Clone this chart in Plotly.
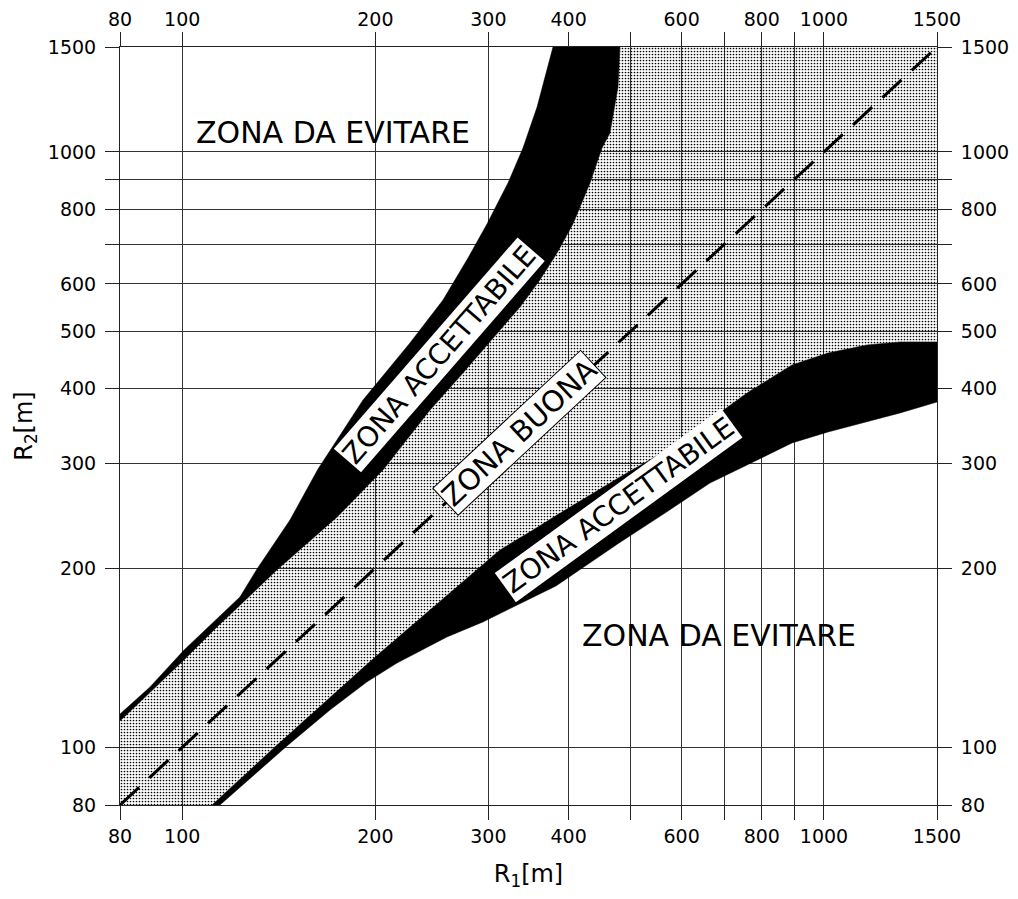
import numpy as np
import plotly.graph_objects as go

R_MIN, R_MAX = 80, 1500

GRID_VALUES = [80, 100, 200, 300, 400, 500, 600, 700, 800, 900, 1000, 1500]
X_TICK_TEXT = ["80", "100", "200", "300", "400", "", "600", "", "800", "", "1000", "1500"]
Y_TICK_TEXT = ["80", "100", "200", "300", "400", "500", "600", "", "800", "", "1000", "1500"]

# upper "zona accettabile" band: outer edge (towards the top-left zone) and inner edge
upper_out_r1 = [80, 89.1, 100.6, 123.0, 130.8, 147.2, 162.8, 191.3, 226.4, 254.9, 278.8, 298.5, 321.8, 339.6, 357.2, 378.2]
upper_out_r2 = [113.7, 126.3, 145.6, 178.8, 199.3, 240.8, 293.3, 383, 477.6, 563.9, 663.2, 756.8, 886.5, 1015, 1189, 1500]
upper_in_r1 = [80, 100.6, 113.3, 141.0, 174.3, 205.5, 243.3, 273.8, 301.7, 336.0, 360.8, 383.7, 406.3, 431.9, 450.9, 464.0, 477.6, 481]
upper_in_r2 = [110.7, 140.1, 159.2, 199.3, 243.6, 292.2, 368.5, 425.2, 479.5, 548.9, 609.2, 676.2, 756.8, 886.5, 1015, 1075.8, 1285, 1500]

# lower "zona accettabile" band: inner edge (towards the good zone) and outer edge
lower_in_r1 = [111.3, 140.0, 199.0, 289.0, 312.7, 352.1, 383.7, 481, 569.3, 664.2, 758.7, 891.6, 1014.5, 1166.7, 1313.7, 1500]
lower_in_r2 = [80, 100.5, 141.2, 199.3, 214.5, 231.7, 245.5, 284.4, 315.7, 354.5, 393.6, 438.6, 459.4, 473.9, 479.5, 479.5]
lower_out_r1 = [114.5, 145.6, 169.9, 194.1, 216.1, 258.5, 294.2, 336.0, 382.3, 479.3, 565.3, 664.2, 758.7, 891.6, 1014.5, 1166.7, 1313.7, 1500]
lower_out_r2 = [80, 100.5, 115.5, 128.8, 138.5, 153.2, 162.4, 174.1, 186.6, 220.3, 247.4, 277.8, 297.9, 324.4, 338.5, 351.8, 364.3, 380.1]

FONT = "DejaVu Sans"

fig = go.Figure()

# dotted "zona buona" area between the two bands
dotted_x = upper_in_r1 + [R_MAX] + lower_in_r1[::-1] + [R_MIN]
dotted_y = upper_in_r2 + [R_MAX] + lower_in_r2[::-1] + [R_MIN]
fig.add_trace(go.Scatter(
    x=dotted_x, y=dotted_y, mode="lines", fill="toself",
    line=dict(width=0), fillcolor="rgba(0,0,0,0)",
    fillpattern=dict(shape=".", size=3, solidity=0.25, fgcolor="black",
                     bgcolor="rgba(0,0,0,0)", fillmode="replace"),
    hoverinfo="skip"))

fig.add_trace(go.Scatter(
    x=upper_out_r1 + upper_in_r1[::-1], y=upper_out_r2 + upper_in_r2[::-1],
    mode="lines", fill="toself", fillcolor="black",
    line=dict(color="black", width=0.5), hoverinfo="skip"))

fig.add_trace(go.Scatter(
    x=lower_in_r1 + lower_out_r1[::-1], y=lower_in_r2 + lower_out_r2[::-1],
    mode="lines", fill="toself", fillcolor="black",
    line=dict(color="black", width=0.5), hoverinfo="skip"))

# R1 = R2 diagonal
fig.add_trace(go.Scatter(
    x=[R_MIN, R_MAX], y=[R_MIN, R_MAX], xaxis="x2", yaxis="y2",
    mode="lines", line=dict(color="black", width=3, dash="26px,14px"),
    hoverinfo="skip"))

rng = [np.log10(R_MIN), np.log10(R_MAX)]
axis_common = dict(
    type="log", range=rng, tickvals=GRID_VALUES, ticks="outside", ticklen=14,
    tickwidth=1, tickcolor="#222", showline=True, linecolor="#222", linewidth=1,
    tickfont=dict(family=FONT, size=19, color="black"), zeroline=False,
    tickangle=0, automargin=False)

# the page body has an 8px margin, so the figure is sized to fit inside the window
fig.update_layout(
    width=1002, height=883,
    margin=dict(l=112, r=73, t=39, b=86),
    paper_bgcolor="white", plot_bgcolor="white",
    showlegend=False,
    font=dict(family=FONT, color="black"),
    xaxis=dict(axis_common, ticktext=X_TICK_TEXT, showgrid=True, gridcolor="#333",
               gridwidth=1, mirror=True, ticklabelstandoff=0,
               title=dict(text="R<sub>1</sub>[m]", font=dict(family=FONT, size=24),
                          standoff=30)),
    yaxis=dict(axis_common, ticktext=Y_TICK_TEXT, showgrid=True, gridcolor="#333",
               gridwidth=1, mirror=True, ticklabelstandoff=5,
               title=dict(text="R<sub>2</sub>[m]", font=dict(family=FONT, size=24),
                          standoff=8)),
    xaxis2=dict(axis_common, ticktext=X_TICK_TEXT, overlaying="x", side="top",
                anchor="y", showgrid=False, ticklabelstandoff=-2),
    yaxis2=dict(axis_common, ticktext=Y_TICK_TEXT, overlaying="y", side="right",
                anchor="x", showgrid=False, ticklabelstandoff=5),
)

for xp, yp in [(0.261, 0.887), (0.733, 0.223)]:
    fig.add_annotation(text="ZONA DA EVITARE", xref="paper", yref="paper",
                       x=xp, y=yp, xanchor="center", yanchor="middle",
                       showarrow=False,
                       font=dict(family=FONT, size=30, color="black"))

fig.add_annotation(text="ZONA ACCETTABILE", x=np.log10(252), y=np.log10(456),
                   textangle=-49, showarrow=False, bgcolor="white", borderpad=1,
                   font=dict(family=FONT, size=28, color="black"))
fig.add_annotation(text="ZONA ACCETTABILE", x=np.log10(478), y=np.log10(255),
                   textangle=-36, showarrow=False, bgcolor="white", borderpad=1,
                   font=dict(family=FONT, size=28, color="black"))
fig.add_annotation(text="ZONA BUONA", x=np.log10(335), y=np.log10(337),
                   textangle=-43, showarrow=False, bgcolor="white", borderpad=1,
                   bordercolor="black", borderwidth=1,
                   font=dict(family=FONT, size=29, color="black"))

fig.write_html("out.html")
